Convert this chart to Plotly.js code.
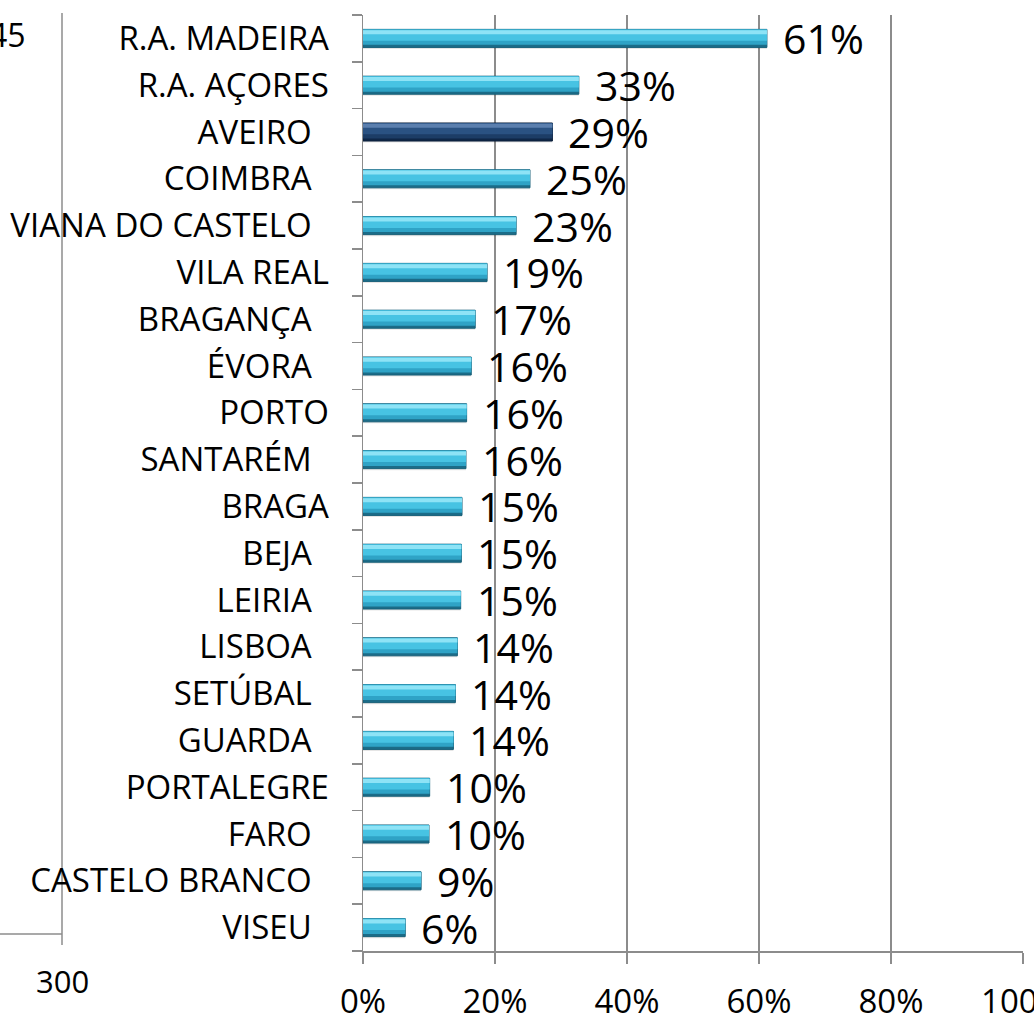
<!DOCTYPE html>
<html>
<head>
<meta charset="utf-8">
<script src="https://cdn.plot.ly/plotly-3.0.1.min.js"></script>
<style>
  html, body { margin: 0; padding: 0; background: #ffffff; }
  #chart { width: 1034px; height: 1013px; }
</style>
</head>
<body>
<div id="chart"></div>
<script>
// ---- data ----
const categories = [
  'R.A. MADEIRA', 'R.A. AÇORES', 'AVEIRO', 'COIMBRA', 'VIANA DO CASTELO',
  'VILA REAL', 'BRAGANÇA', 'ÉVORA', 'PORTO', 'SANTARÉM',
  'BRAGA', 'BEJA', 'LEIRIA', 'LISBOA', 'SETÚBAL',
  'GUARDA', 'PORTALEGRE', 'FARO', 'CASTELO BRANCO', 'VISEU'
];
const values = [
  0.612, 0.327, 0.287, 0.253, 0.232,
  0.188, 0.170, 0.164, 0.157, 0.156,
  0.150, 0.149, 0.148, 0.143, 0.140,
  0.137, 0.101, 0.100, 0.088, 0.064
];
const NB = '\u00a0\u00a0';
const tickLabels = [
  'R.A. MADEIRA', 'R.A. AÇORES', 'AVEIRO' + NB, 'COIMBRA' + NB, 'VIANA DO CASTELO' + NB,
  'VILA REAL', 'BRAGANÇA' + NB, 'ÉVORA' + NB, 'PORTO', 'SANTARÉM' + NB,
  'BRAGA', 'BEJA' + NB, 'LEIRIA' + NB, 'LISBOA' + NB, 'SETÚBAL' + NB,
  'GUARDA' + NB, 'PORTALEGRE', 'FARO' + NB, 'CASTELO BRANCO' + NB, 'VISEU' + NB
];
const highlightCategory = 'AVEIRO';
const xTickVals = [0, 0.2, 0.4, 0.6, 0.8, 1.0];
const xTickText = ['0%', '20%', '40%', '60%', '80%', '100%'];

// ---- styling ----
const FONT = 'Open Sans, Noto Sans, Liberation Sans, sans-serif';
const cyan = { edge: '#1b6c88', low: '#2fa3c6', mid: '#47c3e3', top: '#8ee3f6' };
const navy = { edge: '#0f2747', low: '#1c3d66', mid: '#2a5282', top: '#5b7fae' };
function pick(key) {
  return categories.map(c => (c === highlightCategory ? navy[key] : cyan[key]));
}

function layer(key, width, offset, line) {
  return {
    type: 'bar', orientation: 'h',
    x: values, y: categories,
    width: width, offset: offset,
    marker: { color: pick(key), line: line || { width: 0 } },
    hoverinfo: 'skip', showlegend: false
  };
}

const traces = [
  // soft shadow
  { type: 'bar', orientation: 'h', x: values, y: categories, width: 0.385, offset: -0.16,
    marker: { color: 'rgba(0,0,0,0.10)', line: { width: 0 } }, hoverinfo: 'skip', showlegend: false },
  layer('edge', 0.385, -0.1925, { color: categories.map(c => c === highlightCategory ? '#0b1f3a' : '#175f78'), width: 1 }),
  layer('low', 0.33, -0.1925),
  layer('mid', 0.24, -0.19),
  layer('top', 0.085, -0.175)
];

const annotations = categories.map((c, i) => ({
  x: values[i], y: c, xref: 'x', yref: 'y',
  text: Math.round(values[i] * 100) + '%',
  showarrow: false, xanchor: 'left', yanchor: 'middle', xshift: 14, yshift: 0,
  font: { family: FONT, size: 41, color: '#000000' }
}));

// remnants of the neighbouring chart at the left edge
const L = 363, W = 660, T = 15, H = 936;
const px = v => (v - L) / W;
const py = v => (T + H - v) / H;
annotations.push({
  x: px(28), y: py(34), xref: 'paper', yref: 'paper', text: '45', showarrow: false,
  xanchor: 'right', yanchor: 'middle', font: { family: FONT, size: 32, color: '#000000' }
});
annotations.push({
  x: px(62), y: py(981), xref: 'paper', yref: 'paper', text: '300', showarrow: false,
  xanchor: 'center', yanchor: 'middle', font: { family: FONT, size: 31, color: '#000000' }
});
const shapes = [
  { type: 'line', xref: 'paper', yref: 'paper', x0: px(62), x1: px(62), y0: py(13), y1: py(945),
    line: { color: '#8c8c8c', width: 1.5 }, layer: 'below' },
  { type: 'line', xref: 'paper', yref: 'paper', x0: px(0), x1: px(62), y0: py(934), y1: py(934),
    line: { color: '#8c8c8c', width: 1.5 }, layer: 'below' }
];

const layout = {
  width: 1034, height: 1013,
  margin: { l: L, r: 1034 - L - W, t: T, b: 1013 - T - H, pad: 0, autoexpand: false },
  paper_bgcolor: '#ffffff', plot_bgcolor: '#ffffff',
  barmode: 'overlay',
  showlegend: false,
  font: { family: FONT, color: '#000000' },
  xaxis: {
    automargin: false,
    range: [0, 1], tickvals: xTickVals, ticktext: xTickText,
    showgrid: true, gridcolor: '#8c8c8c', gridwidth: 1.5,
    showline: true, linecolor: '#8c8c8c', linewidth: 1.5,
    ticks: 'outside', ticklen: 11, tickcolor: '#8c8c8c', tickwidth: 1.5,
    tickfont: { family: FONT, size: 33, color: '#000000' },
    ticklabelstandoff: 10, ticklabeloverflow: 'allow',
    zeroline: false, fixedrange: true
  },
  yaxis: {
    automargin: false,
    type: 'category', autorange: false,
    range: [categories.length - 0.5, -0.5],
    tickvals: categories, ticktext: tickLabels,
    tickson: 'boundaries',
    showgrid: false,
    showline: true, linecolor: '#8c8c8c', linewidth: 1.5,
    ticks: 'outside', ticklen: 10, tickcolor: '#8c8c8c', tickwidth: 1.5,
    tickfont: { family: FONT, size: 33, color: '#000000' },
    ticklabelstandoff: 26, ticklabeloverflow: 'allow',
    zeroline: false, fixedrange: true
  },
  annotations: annotations,
  shapes: shapes
};

Plotly.newPlot('chart', traces, layout, { displayModeBar: false, staticPlot: true });
</script>
</body>
</html>
